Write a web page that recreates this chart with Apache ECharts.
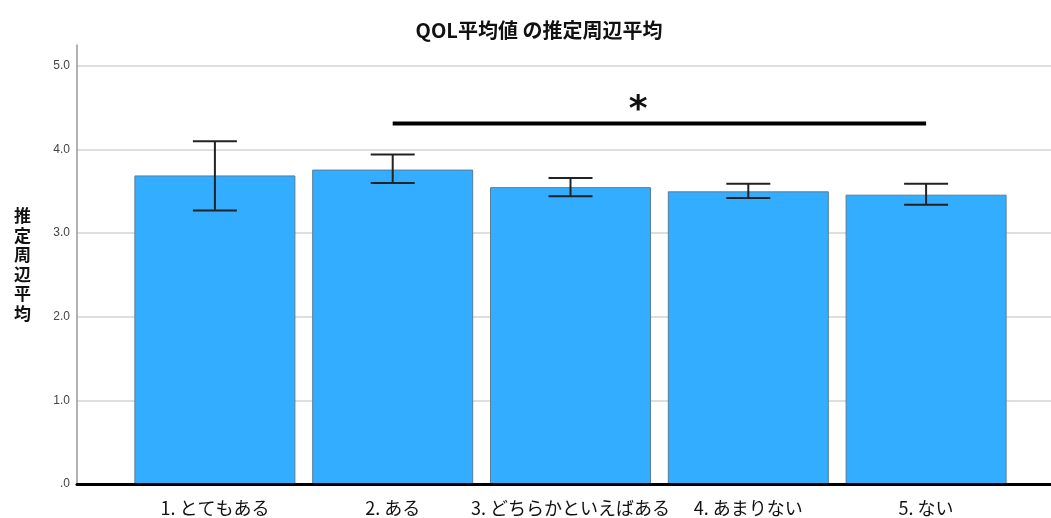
<!DOCTYPE html>
<html>
<head>
<meta charset="utf-8">
<script src="https://cdn.jsdelivr.net/npm/echarts@6/dist/echarts.min.js"></script>
<style>
  html, body { margin: 0; padding: 0; background: #fff; }
  #chart { width: 1051px; height: 518px; }
</style>
</head>
<body>
<div id="chart"></div>
<script>
// データ
var categories = ['1. とてもある', '2. ある', '3. どちらかといえばある', '4. あまりない', '5. ない'];
var means = [3.69, 3.76, 3.55, 3.50, 3.46];
var lowerCI = [3.27, 3.60, 3.44, 3.42, 3.34];
var upperCI = [4.10, 3.94, 3.66, 3.59, 3.59];
var yTicks = [0, 1, 2, 3, 4, 5];
// 有意差の線（カテゴリ index 1 -> 4）
var sigFrom = 1;
var sigTo = 4;
var sigLevel = 4.31;
var sigMark = '*';

var jpFont = '"Noto Sans CJK JP", "Noto Sans", sans-serif';

var chart = echarts.init(document.getElementById('chart'));

var errData = categories.map(function (c, i) { return [i, lowerCI[i], upperCI[i]]; });

chart.setOption({
  animation: false,
  title: {
    text: 'QOL平均値 の推定周辺平均',
    left: 534,
    textAlign: 'center',
    top: 15,
    textStyle: { fontFamily: jpFont, fontSize: 20, fontWeight: 'bold', color: '#111' }
  },
  grid: [
    { left: 77, right: 0, top: 45, bottom: 34 },   // 背景・軸
    { left: 126, right: 36, top: 45, bottom: 34 }  // 棒
  ],
  xAxis: [
    {
      gridIndex: 0, type: 'value', min: 0, max: 1, z: 10,
      axisLine: { show: true, lineStyle: { color: '#000', width: 3 } },
      axisTick: { show: false }, axisLabel: { show: false }, splitLine: { show: false }
    },
    {
      gridIndex: 1, type: 'category', data: categories,
      axisLine: { show: false }, axisTick: { show: false },
      axisLabel: { margin: 15, fontFamily: jpFont, fontSize: 18, color: '#111', interval: 0 }
    }
  ],
  yAxis: [
    {
      gridIndex: 0, type: 'value', min: 0, max: 5.25, interval: 1,
      name: '推\n定\n周\n辺\n平\n均',
      nameLocation: 'middle', nameRotate: 0, nameGap: 46,
      nameTextStyle: { fontFamily: jpFont, fontSize: 17, fontWeight: 'bold', color: '#111', lineHeight: 19.5 },
      axisLine: { show: true, lineStyle: { color: '#999', width: 1.5 } },
      axisTick: { show: false },
      axisLabel: {
        margin: 7, fontFamily: 'Liberation Sans', fontSize: 12, color: '#444',
        showMaxLabel: false,
        formatter: function (v) { return v === 0 ? '.0' : v.toFixed(1); }
      },
      splitLine: { show: true, showMaxLine: false, lineStyle: { color: '#d3d3d3', width: 1.5 } }
    },
    { gridIndex: 1, type: 'value', min: 0, max: 5.25, show: false }
  ],
  series: [
    {
      type: 'bar', xAxisIndex: 1, yAxisIndex: 1,
      data: means, barWidth: 161,
      itemStyle: { color: '#33adff', borderColor: '#587d98', borderWidth: 1 }
    },
    {
      // エラーバー
      type: 'custom', xAxisIndex: 1, yAxisIndex: 1, z: 5,
      data: errData,
      renderItem: function (params, api) {
        var lo = api.coord([api.value(0), api.value(1)]);
        var hi = api.coord([api.value(0), api.value(2)]);
        var hw = 22;
        var st = { stroke: '#222', lineWidth: 2 };
        return {
          type: 'group',
          children: [
            { type: 'line', shape: { x1: lo[0], y1: lo[1], x2: hi[0], y2: hi[1] }, style: st },
            { type: 'line', shape: { x1: hi[0] - hw, y1: hi[1], x2: hi[0] + hw, y2: hi[1] }, style: st },
            { type: 'line', shape: { x1: lo[0] - hw, y1: lo[1], x2: lo[0] + hw, y2: lo[1] }, style: st }
          ]
        };
      }
    },
    {
      // 有意差
      type: 'custom', xAxisIndex: 1, yAxisIndex: 1, z: 5,
      data: [[sigFrom, sigTo, sigLevel]],
      renderItem: function (params, api) {
        var p1 = api.coord([api.value(0), api.value(2)]);
        var p2 = api.coord([api.value(1), api.value(2)]);
        var mx = p1[0] + (p2[0] - p1[0]) * 0.46;
        return {
          type: 'group',
          children: [
            { type: 'line', shape: { x1: p1[0], y1: p1[1], x2: p2[0], y2: p2[1] }, style: { stroke: '#000', lineWidth: 4 } },
            {
              type: 'text', x: mx, y: p1[1] + 5,
              style: { text: sigMark, fontSize: 36, fontWeight: 'bold', fontFamily: 'DejaVu Sans', fill: '#111', align: 'center', verticalAlign: 'bottom' }
            }
          ]
        };
      }
    }
  ]
});
</script>
</body>
</html>
